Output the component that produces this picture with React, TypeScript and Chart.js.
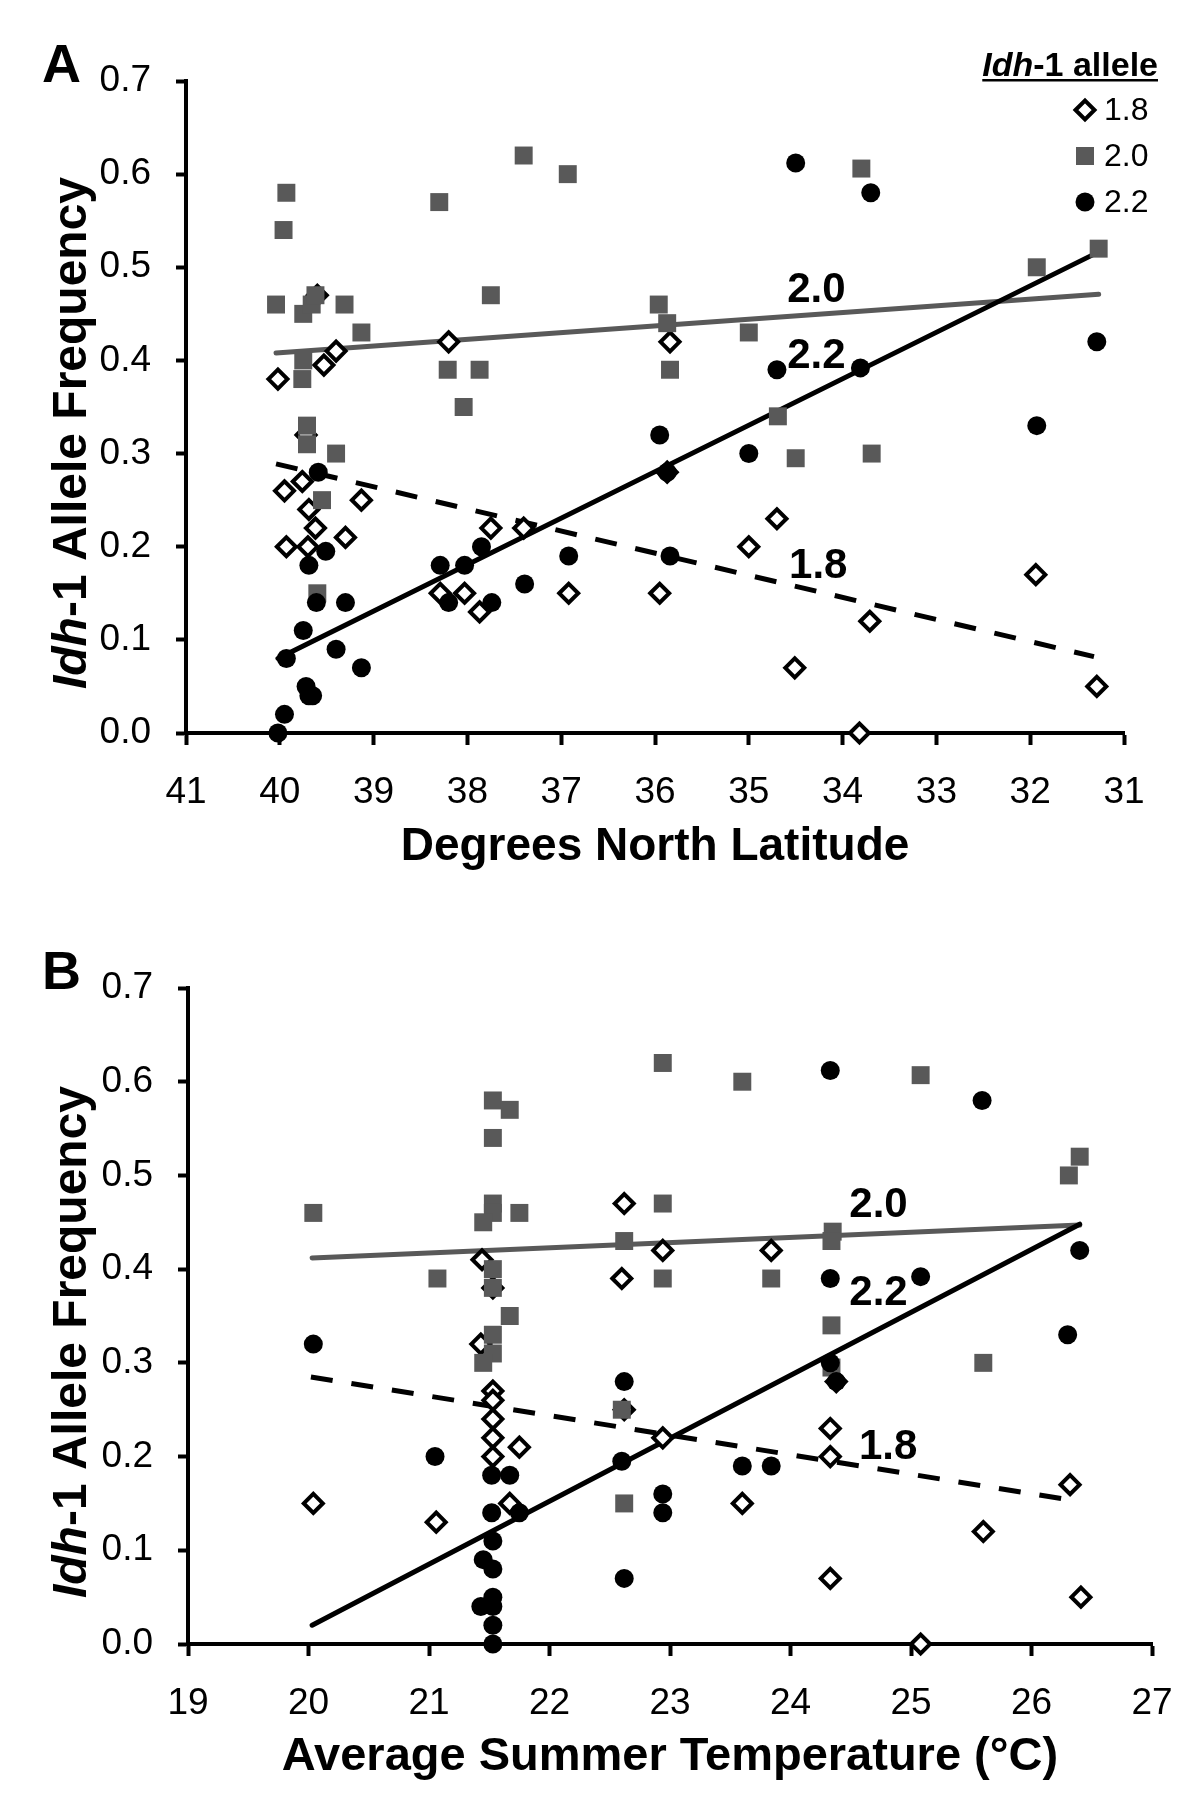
import React, { useEffect, useRef } from 'react';
import { Chart, registerables } from 'chart.js';

Chart.register(...registerables);

const FONT = "'Liberation Sans', Arial, Helvetica, sans-serif";
const GRAY = '#595959';

// ---------- Panel A : latitude ----------
const latA18 = [39.6, 39.4, 39.53, 40.02, 38.2, 39.72, 39.95, 39.76, 39.69, 39.62, 39.93, 39.7, 39.3, 39.13, 38.29, 38.03, 37.87, 37.75, 37.4, 36.92, 35.84, 35.87, 35.95, 35.0, 34.7, 34.51, 33.71, 33.82, 31.94, 31.29];
const frqA18 = [0.47, 0.41, 0.395, 0.38, 0.42, 0.32, 0.26, 0.27, 0.24, 0.22, 0.2, 0.2, 0.21, 0.25, 0.15, 0.15, 0.13, 0.22, 0.22, 0.15, 0.42, 0.28, 0.15, 0.2, 0.23, 0.07, 0.12, 0.0, 0.17, 0.05];

const latA20 = [39.93, 39.96, 40.04, 39.75, 39.66, 39.62, 39.31, 39.13, 39.75, 39.76, 38.3, 37.4, 36.93, 37.75, 38.21, 37.87, 38.04, 39.71, 39.71, 39.4, 39.55, 39.6, 33.8, 31.27, 31.93, 35.96, 35.87, 35.0, 35.84, 34.69, 34.5, 33.69];
const frqA20 = [0.58, 0.54, 0.46, 0.45, 0.46, 0.47, 0.46, 0.43, 0.4, 0.38, 0.57, 0.62, 0.6, 0.47, 0.39, 0.39, 0.35, 0.33, 0.31, 0.3, 0.25, 0.15, 0.606, 0.52, 0.5, 0.46, 0.44, 0.43, 0.39, 0.34, 0.295, 0.3];

const latA22 = [40.02, 39.95, 39.93, 39.75, 39.72, 39.69, 39.65, 39.69, 39.51, 39.59, 39.61, 39.3, 39.4, 39.13, 38.29, 38.2, 38.03, 37.85, 37.74, 37.39, 36.92, 35.95, 35.84, 35.0, 31.93, 35.87, 34.5, 33.7, 31.29, 34.7, 33.81];
const frqA22 = [0.0, 0.02, 0.08, 0.11, 0.05, 0.04, 0.04, 0.18, 0.195, 0.28, 0.14, 0.14, 0.09, 0.07, 0.18, 0.14, 0.18, 0.2, 0.14, 0.16, 0.19, 0.32, 0.19, 0.3, 0.33, 0.28, 0.612, 0.58, 0.42, 0.39, 0.392];

// fitted trend lines (end points)
const trendA18X = [40.04, 31.32];
const trendA18Y = [0.289, 0.082];
const trendA20X = [40.04, 31.27];
const trendA20Y = [0.408, 0.471];
const trendA22X = [40.02, 31.28];
const trendA22Y = [0.08, 0.516];

const lineLabelText = ['2.0', '2.2', '1.8'];
const lineLabelAX = [34.28, 34.28, 34.26];
const lineLabelAY = [0.475, 0.404, 0.179];

const latTicks = [41, 31];

// ---------- Panel B : temperature ----------
const tmpB18 = [21.44, 21.53, 21.43, 22.62, 22.94, 22.6, 23.84, 21.53, 21.53, 21.53, 21.53, 21.53, 21.75, 20.04, 21.06, 21.67, 22.62, 22.94, 24.33, 24.33, 24.38, 23.6, 26.32, 25.6, 24.33, 26.41, 25.08];
const frqB18 = [0.41, 0.38, 0.32, 0.47, 0.42, 0.39, 0.42, 0.27, 0.26, 0.24, 0.22, 0.2, 0.21, 0.15, 0.13, 0.15, 0.25, 0.22, 0.23, 0.2, 0.28, 0.15, 0.17, 0.12, 0.07, 0.05, 0.0];

const tmpB20 = [20.04, 21.07, 21.53, 21.67, 21.53, 21.53, 21.53, 21.45, 21.75, 21.53, 21.53, 21.67, 21.53, 21.53, 21.45, 22.94, 23.6, 25.08, 26.4, 26.31, 22.94, 22.62, 22.94, 23.84, 24.35, 24.34, 24.34, 24.34, 25.6, 22.6, 22.62];
const frqB20 = [0.46, 0.39, 0.58, 0.57, 0.54, 0.47, 0.46, 0.45, 0.46, 0.4, 0.38, 0.35, 0.33, 0.31, 0.3, 0.62, 0.6, 0.607, 0.52, 0.5, 0.47, 0.43, 0.39, 0.39, 0.44, 0.43, 0.34, 0.295, 0.3, 0.25, 0.15];

const tmpB22 = [20.04, 21.05, 21.52, 21.67, 21.52, 21.75, 21.53, 21.45, 21.53, 21.53, 21.43, 21.53, 21.53, 21.53, 24.33, 25.59, 26.4, 24.33, 25.08, 26.3, 24.33, 22.62, 22.6, 22.94, 22.94, 23.6, 23.84, 22.62, 24.38];
const frqB22 = [0.32, 0.2, 0.18, 0.18, 0.14, 0.14, 0.11, 0.09, 0.08, 0.05, 0.04, 0.04, 0.02, 0.0, 0.612, 0.58, 0.42, 0.39, 0.392, 0.33, 0.3, 0.28, 0.195, 0.16, 0.14, 0.19, 0.19, 0.07, 0.28];

const trendB18X = [20.02, 26.35];
const trendB18Y = [0.285, 0.153];
const trendB20X = [20.03, 26.4];
const trendB20Y = [0.412, 0.447];
const trendB22X = [20.03, 26.4];
const trendB22Y = [0.02, 0.448];

const lineLabelBX = [24.73, 24.73, 24.81];
const lineLabelBY = [0.468, 0.374, 0.21];

const tempTicks = [19, 27];

const freqTicks = [0, 0.7];

const legendLabels = ['1.8', '2.0', '2.2'];

const pts = (xs: number[], ys: number[]) => xs.map((x, i) => ({ x, y: ys[i] }));

type PanelCfg = {
  letter: string;
  height: number;
  xs: [number[], number[], number[]];
  ys: [number[], number[], number[]];
  tx: [number[], number[], number[]];
  ty: [number[], number[], number[]];
  labelX: number[];
  labelY: number[];
  xRange: number[];
  reverse: boolean;
  xTitle: string;
  xTitleSize: number;
  pad: { left: number; right: number; top: number; bottom: number };
  yWidth: number;
  xHeight: number;
  legend: boolean;
};

function drawMarker(ctx: CanvasRenderingContext2D, kind: number, x: number, y: number) {
  ctx.save();
  if (kind === 0) {
    const r = 9.5;
    ctx.beginPath();
    ctx.moveTo(x - r, y);
    ctx.lineTo(x, y - r);
    ctx.lineTo(x + r, y);
    ctx.lineTo(x, y + r);
    ctx.closePath();
    ctx.fillStyle = '#fff';
    ctx.fill();
    ctx.lineWidth = 4;
    ctx.strokeStyle = '#000';
    ctx.stroke();
  } else if (kind === 1) {
    ctx.fillStyle = GRAY;
    ctx.fillRect(x - 9, y - 9, 18, 18);
  } else {
    ctx.fillStyle = '#000';
    ctx.beginPath();
    ctx.arc(x, y, 9.5, 0, Math.PI * 2);
    ctx.fill();
  }
  ctx.restore();
}

function makePlugin(cfg: PanelCfg) {
  return {
    id: 'annot' + cfg.letter,
    afterDatasetsDraw(chart: any) {
      const ctx: CanvasRenderingContext2D = chart.ctx;
      const xs = chart.scales.x;
      const ys = chart.scales.y;
      const area = chart.chartArea;
      ctx.save();
      ctx.fillStyle = '#000';
      // trend line labels
      ctx.font = `bold 42px ${FONT}`;
      ctx.textAlign = 'center';
      ctx.textBaseline = 'middle';
      lineLabelText.forEach((t, i) => {
        ctx.fillText(t, xs.getPixelForValue(cfg.labelX[i]), ys.getPixelForValue(cfg.labelY[i]));
      });

      // panel letter
      ctx.font = `bold 54px ${FONT}`;
      ctx.textAlign = 'left';
      ctx.textBaseline = 'alphabetic';
      ctx.fillText(cfg.letter, 42, area.top + 1);

      // y axis title (mixed italic)
      const cy = (area.top + area.bottom) / 2 + 26;
      const cx = 73;
      const f1 = `italic bold 48px ${FONT}`;
      const f2 = `bold 48px ${FONT}`;
      const t1 = 'Idh';
      const t2 = '-1 Allele Frequency';
      ctx.font = f1;
      const w1 = ctx.measureText(t1).width;
      ctx.font = f2;
      const w2 = ctx.measureText(t2).width;
      ctx.translate(cx, cy);
      ctx.rotate(-Math.PI / 2);
      ctx.textBaseline = 'middle';
      ctx.font = f1;
      ctx.fillText(t1, -(w1 + w2) / 2, 0);
      ctx.font = f2;
      ctx.fillText(t2, -(w1 + w2) / 2 + w1, 0);
      ctx.setTransform(1, 0, 0, 1, 0, 0);

      if (cfg.legend) {
        const right = 1158;
        const base = 76;
        const lf1 = `italic bold 34px ${FONT}`;
        const lf2 = `bold 34px ${FONT}`;
        ctx.font = lf1;
        const a1 = ctx.measureText('Idh').width;
        ctx.font = lf2;
        const a2 = ctx.measureText('-1 allele').width;
        const left = right - a1 - a2;
        ctx.textBaseline = 'alphabetic';
        ctx.textAlign = 'left';
        ctx.font = lf1;
        ctx.fillText('Idh', left, base);
        ctx.font = lf2;
        ctx.fillText('-1 allele', left + a1, base);
        ctx.fillRect(left, base + 3, a1 + a2, 2.5);
        const rowY = [110, 156, 202];
        ctx.font = `32px ${FONT}`;
        ctx.textBaseline = 'middle';
        legendLabels.forEach((t, i) => {
          drawMarker(ctx, i, 1085, rowY[i]);
          ctx.fillStyle = '#000';
          ctx.fillText(t, 1104, rowY[i] + 1);
        });
      }
      ctx.restore();
    },
  };
}

function Panel({ cfg }: { cfg: PanelCfg }) {
  const ref = useRef<HTMLCanvasElement>(null);
  useEffect(() => {
    if (!ref.current) return;
    const tickFont = { family: FONT, size: 37 };
    const gridCommon = {
      drawOnChartArea: false,
      drawTicks: true,
      tickWidth: 4,
      tickColor: '#000',
      color: '#000',
    };
    const chart = new Chart(ref.current, {
      type: 'scatter',
      data: {
        datasets: [
          {
            label: '2.2',
            data: pts(cfg.xs[2], cfg.ys[2]),
            pointStyle: 'circle',
            pointRadius: 9.5,
            pointBackgroundColor: '#000',
            pointBorderWidth: 0,
            order: 0,
            clip: false,
          } as any,
          {
            label: '2.0',
            data: pts(cfg.xs[1], cfg.ys[1]),
            pointStyle: 'rect',
            pointRadius: 12.7,
            pointBackgroundColor: GRAY,
            pointBorderWidth: 0,
            order: 1,
            clip: false,
          },
          {
            label: '1.8',
            data: pts(cfg.xs[0], cfg.ys[0]),
            pointStyle: 'rectRot',
            pointRadius: 9.5,
            pointBackgroundColor: '#fff',
            pointBorderColor: '#000',
            pointBorderWidth: 4,
            order: 2,
            clip: false,
          },
          {
            label: 'fit 2.2',
            data: pts(cfg.tx[2], cfg.ty[2]),
            showLine: true,
            pointRadius: 0,
            borderColor: '#000',
            borderWidth: 5,
            borderCapStyle: 'round',
            order: 3,
          },
          {
            label: 'fit 2.0',
            data: pts(cfg.tx[1], cfg.ty[1]),
            showLine: true,
            pointRadius: 0,
            borderColor: GRAY,
            borderWidth: 5,
            borderCapStyle: 'round',
            order: 4,
          },
          {
            label: 'fit 1.8',
            data: pts(cfg.tx[0], cfg.ty[0]),
            showLine: true,
            pointRadius: 0,
            borderColor: '#000',
            borderWidth: 5,
            borderDash: [22, 19],
            borderCapStyle: 'butt',
            order: 5,
          },
        ],
      },
      options: {
        animation: false,
        responsive: false,
        events: [],
        layout: { padding: cfg.pad },
        plugins: { legend: { display: false }, tooltip: { enabled: false } },
        scales: {
          x: {
            type: 'linear',
            min: cfg.xRange[0],
            max: cfg.xRange[1],
            reverse: cfg.reverse,
            ticks: {
              stepSize: 1,
              font: tickFont,
              color: '#000',
              padding: 26,
              maxRotation: 0,
              autoSkip: false,
              callback: (v: any) => String(Math.round(Number(v))),
            },
            grid: { ...gridCommon, tickLength: 12 },
            border: { display: true, color: '#000', width: 4 },
            title: {
              display: true,
              text: cfg.xTitle,
              color: '#000',
              padding: 0,
              font: { family: FONT, size: cfg.xTitleSize, weight: 'bold', lineHeight: 1 },
            },
            afterFit: (s: any) => {
              s.height = cfg.xHeight;
            },
          },
          y: {
            type: 'linear',
            min: freqTicks[0],
            max: freqTicks[1],
            ticks: {
              stepSize: 0.1,
              font: tickFont,
              color: '#000',
              padding: 25,
              callback: (v: any) => Number(v).toFixed(1),
            },
            grid: { ...gridCommon, tickLength: 10 },
            border: { display: true, color: '#000', width: 4 },
            afterFit: (s: any) => {
              s.width = cfg.yWidth;
            },
          },
        },
      } as any,
      plugins: [makePlugin(cfg)],
    });
    return () => chart.destroy();
  }, [cfg]);
  return <canvas ref={ref} width={1200} height={cfg.height} style={{ display: 'block', width: 1200, height: cfg.height }} />;
}

const cfgA: PanelCfg = {
  letter: 'A',
  height: 906,
  xs: [latA18, latA20, latA22],
  ys: [frqA18, frqA20, frqA22],
  tx: [trendA18X, trendA20X, trendA22X],
  ty: [trendA18Y, trendA20Y, trendA22Y],
  labelX: lineLabelAX,
  labelY: lineLabelAY,
  xRange: [latTicks[1], latTicks[0]],
  reverse: true,
  xTitle: 'Degrees North Latitude',
  xTitleSize: 46,
  pad: { left: 0, right: 76, top: 81, bottom: 36 },
  yWidth: 186,
  xHeight: 137,
  legend: true,
};

const cfgB: PanelCfg = {
  letter: 'B',
  height: 905,
  xs: [tmpB18, tmpB20, tmpB22],
  ys: [frqB18, frqB20, frqB22],
  tx: [trendB18X, trendB20X, trendB22X],
  ty: [trendB18Y, trendB20Y, trendB22Y],
  labelX: lineLabelBX,
  labelY: lineLabelBY,
  xRange: [tempTicks[0], tempTicks[1]],
  reverse: false,
  xTitle: 'Average Summer Temperature (°C)',
  xTitleSize: 47,
  pad: { left: 0, right: 48, top: 82, bottom: 30 },
  yWidth: 188,
  xHeight: 137,
  legend: false,
};

export default function App() {
  return (
    <div style={{ position: 'absolute', left: 0, top: 0, width: 1200, height: 1811, background: '#fff' }}>
      <Panel cfg={cfgA} />
      <Panel cfg={cfgB} />
    </div>
  );
}
